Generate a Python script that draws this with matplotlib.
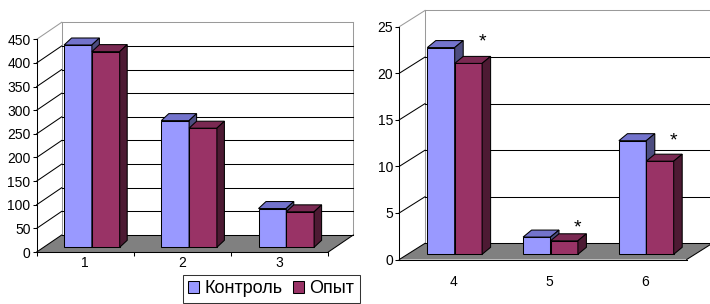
import matplotlib
matplotlib.use('Agg')
import matplotlib.pyplot as plt
from matplotlib.patches import Polygon, Patch
from matplotlib.transforms import ScaledTranslation
import numpy as np

plt.rcParams['font.family'] = ['Liberation Sans', 'DejaVu Sans']

# ---------------- data ----------------
series_names = ['Контроль', 'Опыт']
categories_left = ['1', '2', '3']
kontrol_left = [428, 268, 82]
opyt_left = [414, 252, 75]
yticks_left = list(range(0, 451, 50))

categories_right = ['4', '5', '6']
kontrol_right = [22.2, 1.85, 12.2]
opyt_right = [20.5, 1.45, 10.0]
yticks_right = list(range(0, 26, 5))
stars_right = ['*', '*', '*']

# ---------------- style ----------------
W, H = 710, 304
DPI = 100
C_K = ('#9999FF', '#7373CC', '#4D4D80')   # front, top, side
C_O = ('#993366', '#7A2952', '#4D1A33')
GRAY_LINE = '#9A9A9A'
FLOOR = '#808080'
LW = 0.75

fig = plt.figure(figsize=(W / DPI, H / DPI), dpi=DPI)


def panel(left, top, right, bottom, ymax, yticks, cats, kvals, ovals,
          wall_px, base_px, depth_px, lab_dx_px, xtick_len, xpad, stars=None, star_dy=None):
    ax = fig.add_axes([left / W, 1 - bottom / H, (right - left) / W, (bottom - top) / H])
    n = len(cats)
    ax.set_xlim(0, n)
    ax.set_ylim(0, ymax)
    ax.patch.set_visible(False)
    for s in ['top', 'right']:
        ax.spines[s].set_visible(False)
    for s in ['left', 'bottom']:
        ax.spines[s].set_linewidth(LW)
        ax.spines[s].set_color('black')
        ax.spines[s].set_zorder(2.5)
    sx = n / (right - left)
    sy = ymax / (bottom - top)

    # y axis
    ax.set_yticks(yticks)
    ax.tick_params(axis='y', direction='out', length=4 * 0.72, width=LW, pad=1.5,
                   labelsize=10, colors='black')
    # x axis: boundaries as major ticks, labels on minor ticks
    centers = np.arange(n) + 0.5
    ax.set_xticks(np.arange(n + 1))
    ax.set_xticklabels([''] * (n + 1))
    ax.set_xticks(centers + lab_dx_px * sx, labels=cats, minor=True)
    ax.tick_params(axis='x', which='major', direction='out', length=xtick_len * 0.72, width=LW)
    ax.tick_params(axis='x', which='minor', length=0, pad=xpad, labelsize=10)

    # walls / floor
    dxw, dyw = wall_px[0] * sx, wall_px[1] * sy
    floor = Polygon([(0, 0), (n, 0), (n + dxw, dyw), (dxw, dyw)], closed=True,
                    facecolor=FLOOR, edgecolor='none', zorder=1, clip_on=False)
    ax.add_patch(floor)
    for xa in (0, n):
        ax.plot([xa, xa + dxw], [0, dyw], color='black', lw=LW, zorder=1.5, clip_on=False)
    for t in yticks:
        c = GRAY_LINE if t == yticks[-1] else 'black'
        ax.plot([dxw, n + dxw], [t + dyw, t + dyw], color=c, lw=LW, zorder=1.2, clip_on=False)
        if t > 0:
            ax.plot([0, dxw], [t, t + dyw], color=c, lw=LW, zorder=1.2, clip_on=False)
    for xa in (dxw, n + dxw):
        ax.plot([xa, xa], [dyw, yticks[-1] + dyw], color=GRAY_LINE, lw=LW, zorder=1.1, clip_on=False)

    # bars
    tr = ax.transData + ScaledTranslation(base_px[0] / DPI, base_px[1] / DPI, fig.dpi_scale_trans)
    bdx, bdy = depth_px[0] * sx, depth_px[1] * sy
    w = 0.286
    for j, (vals, cols) in enumerate([(kvals, C_K), (ovals, C_O)]):
        xs = centers - w + j * w
        bars = ax.bar(xs, vals, w, align='edge', color=cols[0], edgecolor='black', linewidth=LW)
        for i, (b, v) in enumerate(zip(bars, vals)):
            z = 3 + j * 0.3
            b.set_transform(tr)
            b.set_zorder(z)
            b.set_clip_on(False)
            xl, xr = xs[i], xs[i] + w
            ax.add_patch(Polygon([(xl, v), (xr, v), (xr + bdx, v + bdy), (xl + bdx, v + bdy)],
                                 closed=True, facecolor=cols[1], edgecolor='black', lw=LW,
                                 transform=tr, zorder=z + 0.1, clip_on=False))
            ax.add_patch(Polygon([(xr, 0), (xr + bdx, bdy), (xr + bdx, v + bdy), (xr, v)],
                                 closed=True, facecolor=cols[2], edgecolor='black', lw=LW,
                                 transform=tr, zorder=z + 0.1, clip_on=False))
    if stars:
        for i, s in enumerate(stars):
            ax.annotate(s, xy=(centers[i] + w, ovals[i]), xycoords=tr,
                        xytext=(0, star_dy[i]), textcoords='offset pixels',
                        ha='center', va='center', fontsize=14, zorder=6)
    return ax


panel(36.7, 39.3, 328.3, 252.0, 450, yticks_left, categories_left, kontrol_left, opyt_left,
      wall_px=(25, 17), base_px=(6.6, 4.7), depth_px=(7.5, 7), lab_dx_px=0,
      xtick_len=4, xpad=3)

panel(399.3, 26.7, 686.7, 259.5, 25, yticks_right, categories_right, kontrol_right, opyt_right,
      wall_px=(25.7, 16.2), base_px=(7.5, 5.2), depth_px=(8.5, 7), lab_dx_px=6.8,
      xtick_len=0, xpad=11, stars=stars_right, star_dy=[21, 13, 20])

handles = [Patch(facecolor=C_K[0], edgecolor='black', linewidth=LW),
           Patch(facecolor=C_O[0], edgecolor='black', linewidth=LW)]
leg = fig.legend(handles, series_names, loc='upper left', bbox_to_anchor=(182.5 / W, 1 - 275 / H),
                 ncol=2, fontsize=13, frameon=True, fancybox=False, edgecolor='black',
                 handlelength=0.6, handleheight=0.6, handletextpad=0.3, columnspacing=0.6,
                 borderpad=0.3, borderaxespad=0)
leg.get_frame().set_linewidth(LW)

fig.savefig('out.png', dpi=DPI)
